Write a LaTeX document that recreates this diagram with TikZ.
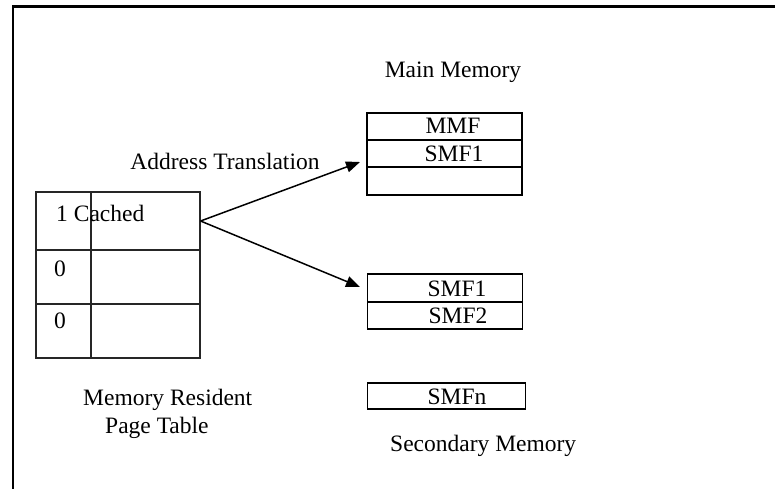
\documentclass[tikz,border=0pt]{standalone}
\usepackage{fontspec}
\setmainfont{Liberation Serif}
\usetikzlibrary{arrows.meta}

\begin{document}
\begin{tikzpicture}[x=1pt, y=-1pt, >={Triangle[length=14pt, width=11pt]}, line join=miter,
	font=\fontsize{23.5}{28}\selectfont,
	cell/.style={draw, line width=1.5pt, minimum width=155pt, minimum height=27pt, inner sep=0pt},
	ptrow/.style={draw, line width=1.1pt, black!85, minimum width=164pt, inner sep=0pt},
	lbl/.style={anchor=base, inner sep=0pt}]
	\useasboundingbox (0,0) rectangle (775,489);

	% Khung ngoài
	\draw[line width=2.5pt] (775,6.5) -- (13,6.5) -- (13,489);

	% Bảng trang
	\node[ptrow, minimum height=58pt] (ptA) at (118,221) {};
	\node[ptrow, minimum height=54pt] (ptB) at (118,277) {};
	\node[ptrow, minimum height=54pt] (ptC) at (118,331) {};
	\draw[line width=1.1pt, black!85] (ptA.north -| 91,0) -- (ptC.south -| 91,0);
	\node[lbl, anchor=base west] (cached) at (56,221) {1 Cached};
	\node[lbl, anchor=base west] (zeroB) at (54,276) {0};
	\node[lbl, anchor=base west] (zeroC) at (54,328) {0};
	\node[lbl, anchor=base west] (resA) at (83,405) {Memory Resident};
	\node[lbl, anchor=base west] (resB) at (105,433) {Page Table};

	% Bộ nhớ chính
	\node[lbl] (mainlbl) at (453,78) {Main Memory};
	\node[cell] (mmA) at (444.5,126.5) {};
	\node[cell] (mmB) at (444.5,153.5) {};
	\node[cell, minimum height=28pt] (mmC) at (444.5,181) {};
	\node[lbl] (mmf) at (453,134) {MMF};
	\node[lbl] (mmsmf) at (454,161) {SMF1};

	% Bộ nhớ phụ
	\node[cell, minimum height=28pt] (smA) at (445,288) {};
	\node[cell] (smB) at (445,315.5) {};
	\node[cell, minimum width=158pt, minimum height=26pt] (smN) at (446.5,396) {};
	\node[lbl] (smfa) at (457,296) {SMF1};
	\node[lbl] (smfb) at (458,323) {SMF2};
	\node[lbl] (smfn) at (457,404) {SMFn};
	\node[lbl, anchor=base west] (seclbl) at (390,451) {Secondary Memory};

	% Mũi tên
	\coordinate (upTip) at (360,162);
	\coordinate (lowTip) at (360,287);
	\node[lbl] (trans) at (225,169) {Address Translation};
	\draw[->, line width=1.5pt] (ptA.east) -- (upTip);
	\draw[->, line width=1.5pt] (ptA.east) -- (lowTip);
\end{tikzpicture}
\end{document}
